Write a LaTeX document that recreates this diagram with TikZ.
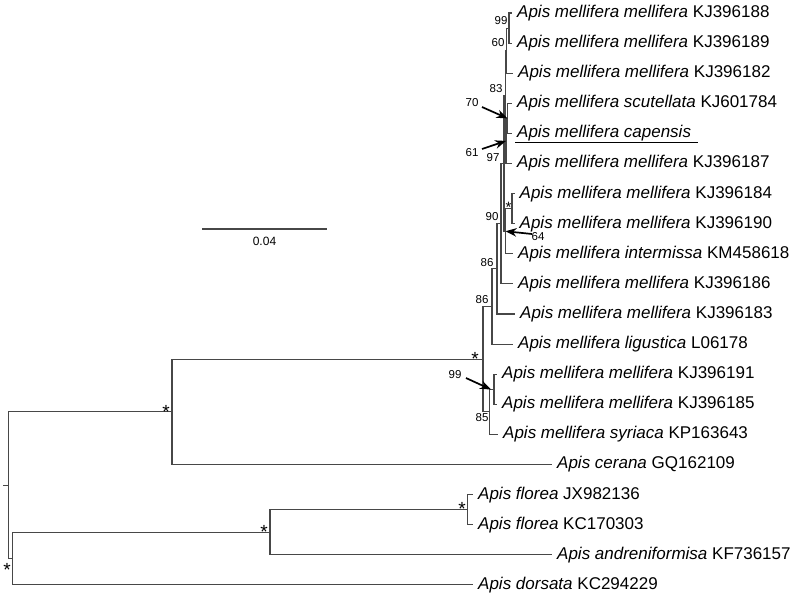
\documentclass[tikz,border=0pt]{standalone}
\usepackage{fontspec}
\setmainfont{Liberation Sans}
\usetikzlibrary{arrows.meta}
\begin{document}
\begin{tikzpicture}[x=1pt,y=-1pt,
  br/.style={draw=black!72, line width=1.1pt},
  tiplab/.style={anchor=west, inner sep=0pt, font=\fontsize{17}{20}\selectfont, text height=12.5pt, text depth=3.6pt, xshift=5pt},
  boot/.style={inner sep=0pt, font=\fontsize{11.5}{13}\selectfont},
  starlab/.style={inner sep=0pt, anchor=base, font=\fontsize{19}{20}\selectfont},
  arr/.style={line width=1.7pt, -{Stealth[length=11pt,width=8.5pt]}}]
\useasboundingbox (0,0) rectangle (800,597);
% tips
\coordinate (t1) at (512,13);
\coordinate (t2) at (512,43.1);
\coordinate (t3) at (513,73.2);
\coordinate (t4) at (512,103.3);
\coordinate (t5) at (512,133.4);
\coordinate (t6) at (512,163.5);
\coordinate (t7) at (514.5,193.6);
\coordinate (t8) at (514.5,223.7);
\coordinate (t9) at (513,253.8);
\coordinate (t10) at (513,283.9);
\coordinate (t11) at (515,314);
\coordinate (t12) at (513,344.1);
\coordinate (t13) at (497,374.2);
\coordinate (t14) at (497,404.3);
\coordinate (t15) at (498,434.4);
\coordinate (t16) at (552,464.5);
\coordinate (t17) at (473,494.6);
\coordinate (t18) at (473,524.7);
\coordinate (t19) at (552,554.8);
\coordinate (t20) at (473,584.9);
% internal nodes
\coordinate (n99) at (509,28.05);
\coordinate (n60) at (506.5,50.63);
\coordinate (n70) at (507.5,118.35);
\coordinate (n61) at (506,140.93);
\coordinate (n83) at (505.5,95.78);
\coordinate (ns) at (512,208.65);
\coordinate (n64) at (505.5,231.23);
\coordinate (n97) at (504,163.5);
\coordinate (n90) at (501,223.7);
\coordinate (n86u) at (497,268.85);
\coordinate (n86l) at (492,306.48);
\coordinate (n99b) at (494,389.25);
\coordinate (n85) at (489.5,411.83);
\coordinate (nM) at (483,359.15);
\coordinate (nA) at (172,411.83);
\coordinate (nF) at (467.5,509.65);
\coordinate (nC) at (270,532.23);
\coordinate (nB) at (12.5,558.56);
\coordinate (root) at (8.5,485.2);
\coordinate (stub) at (3,485.2);
% branches
\draw[br] (n99) |- (t1) (n99) |- (t2);
\draw[br] (n60) |- (n99) (n60) |- (t3);
\draw[br] (n70) |- (t4) (n70) |- (t5);
\draw[br] (n61) |- (n70) (n61) |- (t6);
\draw[br] (n83) |- (n60) (n83) |- (n61);
\draw[br] (ns) |- (t7) (ns) |- (t8);
\draw[br] (n64) |- (ns) (n64) |- (t9);
\draw[br] (n97) |- (n83) (n97) |- (n64);
\draw[br] (n90) |- (n97) (n90) |- (t10);
\draw[br] (n86u) |- (n90) (n86u) |- (t11);
\draw[br] (n86l) |- (n86u) (n86l) |- (t12);
\draw[br] (n99b) |- (t13) (n99b) |- (t14);
\draw[br] (n85) |- (n99b) (n85) |- (t15);
\draw[br] (nM) |- (n86l) (nM) |- (n85);
\draw[br] (nA) |- (nM) (nA) |- (t16);
\draw[br] (nF) |- (t17) (nF) |- (t18);
\draw[br] (nC) |- (nF) (nC) |- (t19);
\draw[br] (nB) |- (nC) (nB) |- (t20);
\draw[br] (root) |- (nA) (root) |- (nB);
\draw[br] (stub) -- (root);
% tip labels
\node[tiplab] (L1) at (t1) {\textit{Apis mellifera mellifera} KJ396188};
\node[tiplab] (L2) at (t2) {\textit{Apis mellifera mellifera} KJ396189};
\node[tiplab] (L3) at (t3) {\textit{Apis mellifera mellifera} KJ396182};
\node[tiplab] (L4) at (t4) {\textit{Apis mellifera scutellata} KJ601784};
\node[tiplab] (L5) at (t5) {\textit{Apis mellifera capensis}};
\node[tiplab] (L6) at (t6) {\textit{Apis mellifera mellifera} KJ396187};
\node[tiplab] (L7) at (t7) {\textit{Apis mellifera mellifera} KJ396184};
\node[tiplab] (L8) at (t8) {\textit{Apis mellifera mellifera} KJ396190};
\node[tiplab] (L9) at (t9) {\textit{Apis mellifera intermissa} KM458618};
\node[tiplab] (L10) at (t10) {\textit{Apis mellifera mellifera} KJ396186};
\node[tiplab] (L11) at (t11) {\textit{Apis mellifera mellifera} KJ396183};
\node[tiplab] (L12) at (t12) {\textit{Apis mellifera ligustica} L06178};
\node[tiplab] (L13) at (t13) {\textit{Apis mellifera mellifera} KJ396191};
\node[tiplab] (L14) at (t14) {\textit{Apis mellifera mellifera} KJ396185};
\node[tiplab] (L15) at (t15) {\textit{Apis mellifera syriaca} KP163643};
\node[tiplab] (L16) at (t16) {\textit{Apis cerana} GQ162109};
\node[tiplab] (L17) at (t17) {\textit{Apis florea} JX982136};
\node[tiplab] (L18) at (t18) {\textit{Apis florea} KC170303};
\node[tiplab] (L19) at (t19) {\textit{Apis andreniformisa} KF736157};
\node[tiplab] (L20) at (t20) {\textit{Apis dorsata} KC294229};
\draw[black, line width=0.9pt] ([xshift=-2pt,yshift=-0.6pt]L5.south west) -- ([xshift=7pt,yshift=-0.6pt]L5.south east);
% bootstrap values
\node[boot] (b99) at (501,21) {99};
\node[boot] (b60) at (498,43) {60};
\node[boot] (b83) at (496,89) {83};
\node[boot] (b97) at (493,158) {97};
\node[boot] (b90) at (492,217) {90};
\node[boot] (b86u) at (487,263) {86};
\node[boot] (b86l) at (482,300) {86};
\node[boot] (b85) at (482,418) {85};
\node[boot] (b99b) at (455,375) {99};
\node[boot] (b70) at (472,103) {70};
\node[boot] (b61) at (472,153) {61};
\node[boot] (b64) at (538,237) {64};
% stars
\node[starlab] (sA) at (166,418) {*};
\node[starlab] (sB) at (7,576) {*};
\node[starlab] (sC) at (264,538) {*};
\node[starlab] (sF) at (462,515) {*};
\node[starlab] (sM) at (475,365) {*};
\node[starlab, font=\fontsize{15}{16}\selectfont] (ss) at (508.5,212.5) {*};
% arrows
\coordinate (a70) at (482,107);
\coordinate (a61) at (482,149);
\coordinate (a64) at (532,234);
\coordinate (a99b) at (466,378);
\coordinate (e99b) at (491,389.5);
\draw[arr] (a70) -- (n70);
\draw[arr] (a61) -- (n61);
\draw[arr] (a64) -- (n64);
\draw[arr] (a99b) -- (e99b);
% scale bar
\coordinate (sb1) at (202,229);
\coordinate (sb2) at (327,229);
\draw[br] (sb1) -- (sb2);
\node[boot, font=\fontsize{12}{14}\selectfont] (sbl) at (264.5,241) {0.04};
\end{tikzpicture}
\end{document}
